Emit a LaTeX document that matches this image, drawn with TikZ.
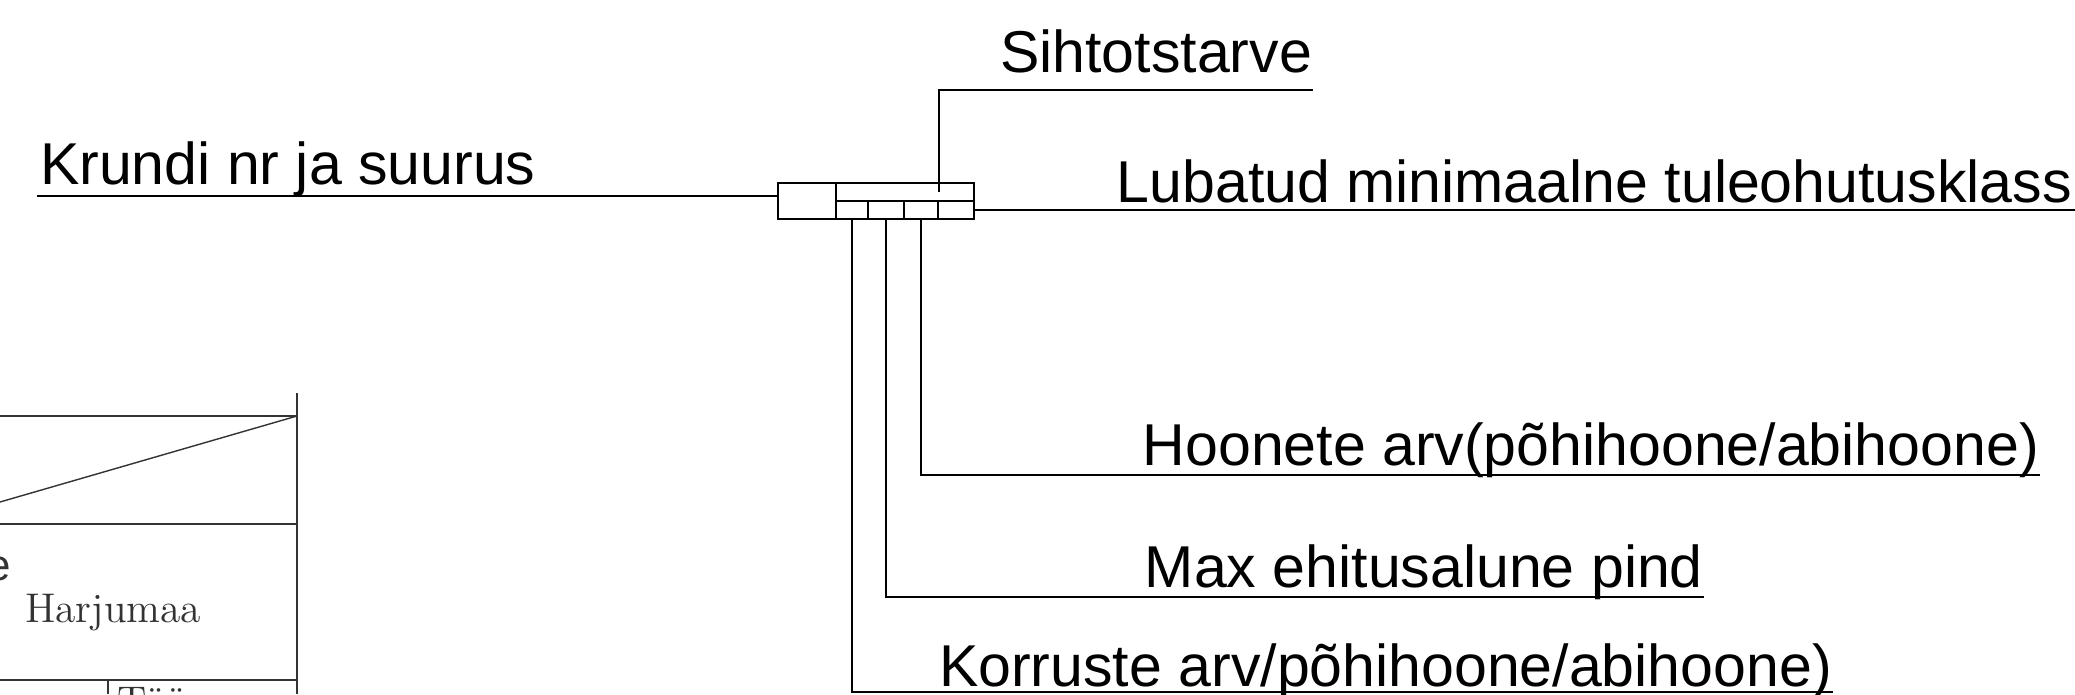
\documentclass[tikz,border=0pt]{standalone}
\usepackage{fontspec}
\newfontfamily\labelfont{Liberation Sans}
\begin{document}
\begin{tikzpicture}
        [x=0.1mm,y=-0.1mm,line width=0.6pt,
         cell/.style={draw, rectangle, inner sep=0pt, minimum height=1.8mm},
         lbl/.style={inner sep=0pt, anchor=base east, font=\labelfont\fontsize{16.8}{20}\selectfont},
         frame/.style={draw=black!80},
         stamp/.style={inner sep=0pt, text=black!80, font=\fontsize{11.8}{14}\selectfont}]
      \useasboundingbox (0,0) rectangle (2075,694);
      \clip (0,0) rectangle (2075,694);
      \fill[white] (0,0) rectangle (2075,694);

      % mark box
      \node[cell, minimum width=5.8mm, minimum height=3.6mm] (kr) at (807,201) {};
      \node[cell, minimum width=13.8mm] (top) at (905,192) {};
      \foreach \n/\x/\w in {c1/852/3.2mm, c2/886/3.6mm, c3/921/3.4mm, c4/956/3.6mm}
        \node[cell, minimum width=\w] (\n) at (\x,210) {};

      % line ends
      \coordinate (kre) at (37,196);
      \coordinate (sihc) at (939,90);
      \coordinate (sihe) at (1313,90);
      \coordinate (lube) at (2075,212);
      \coordinate (hoe) at (2040,475);
      \coordinate (maxe) at (1704,597);
      \coordinate (korre) at (1833,692);

      % labels
      \node[lbl, anchor=base west] (krundi) at (39,184) {Krundi nr ja suurus};
      \node[lbl] (siht) at (1313,72) {Sihtotstarve};
      \node[lbl] (lubatud) at (2073,202) {Lubatud minimaalne tuleohutusklass};
      \node[lbl] (hoonete) at (2040,465) {Hoonete arv(põhihoone/abihoone)};
      \node[lbl] (maxpind) at (1704,587) {Max ehitusalune pind};
      \node[lbl] (korruste) at (1833,686) {Korruste arv/põhihoone/abihoone)};

      % leaders
      \draw (kre) -- (kre -| kr.west);
      \draw (sihe) -- (sihc) -- (sihc |- top.center);
      \draw (c4.east) -- (c4.east -| lube);
      \foreach \c/\e in {c1/korre, c2/maxe, c3/hoe}
        \draw (\c.south) -- (\c.south |- \e) -- (\e);

      % piece of the title block
      \draw[frame] (297,393) -- (297,694);
      \draw[frame] (0,416) -- (297,416);
      \draw[frame, line width=0.4pt] (0,502) -- (297,416);
      \draw[frame] (0,524) -- (297,524);
      \draw[frame] (0,680) -- (297,680);
      \draw[frame] (108,680) -- (108,694);
      \node[inner sep=0pt, anchor=base east, text=black!80, font=\labelfont\fontsize{12.5}{14}\selectfont] (cut) at (12,580) {e};
      \node[stamp, anchor=base west] (harju) at (24,622) {Harjumaa};
      \node[stamp, anchor=north west] (toonr) at (116,686) {Töö nr:};
    \end{tikzpicture}
\end{document}
